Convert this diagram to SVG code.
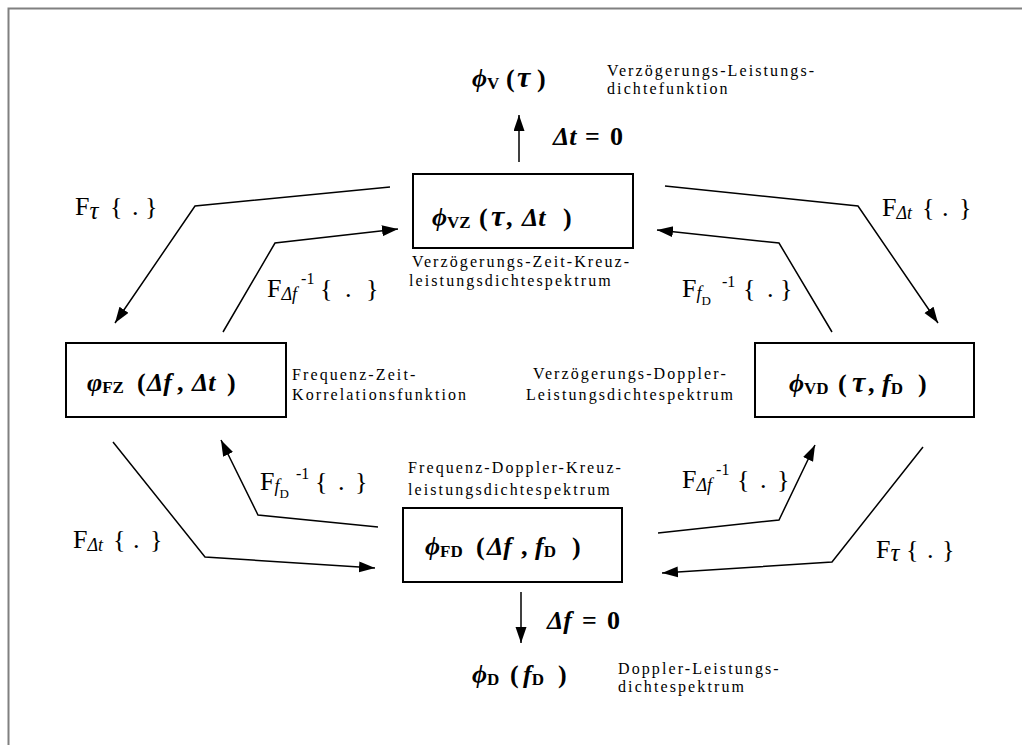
<svg xmlns="http://www.w3.org/2000/svg" width="1022" height="745" viewBox="0 0 1022 745">
<style>
text{font-family:"Liberation Serif","Times New Roman","DejaVu Serif",serif;fill:#000}
.lbl{font-size:16px;letter-spacing:2.1px}
.m{font-size:26px;font-weight:bold}
.mi{font-style:italic}
.tau{font-size:30px;font-style:italic}
.sb{font-size:17px;font-weight:bold;font-style:normal}
.f{font-size:26px}
.fs{font-size:18px;font-style:italic}
.ft{font-size:25px;font-style:italic}
.fss{font-size:13px}
.sup{font-size:16px}
.box{fill:#fff;stroke:#000;stroke-width:2}
.c{fill:none;stroke:#000;stroke-width:1.5}
</style>
<defs>
<marker id="ah" markerUnits="userSpaceOnUse" markerWidth="17" markerHeight="12" refX="16" refY="5.5" orient="auto"><path d="M0,0 L16,5.5 L0,11 z" fill="#000"/></marker>
</defs>
<rect width="1022" height="745" fill="#fff"/>
<path d="M8.5,745 V8.5 H1022" fill="none" stroke="#808080" stroke-width="2"/>

<g id="connectors">
<polyline class="c" points="390,187 195,206 115,323" marker-end="url(#ah)"/>
<polyline class="c" points="223,332 275,243 398,229" marker-end="url(#ah)"/>
<polyline class="c" points="665,186 858,206 938,323" marker-end="url(#ah)"/>
<polyline class="c" points="832,332 779,243 657,230" marker-end="url(#ah)"/>
<polyline class="c" points="113,442 205,557 375,568" marker-end="url(#ah)"/>
<polyline class="c" points="378,527 258,515 221,440" marker-end="url(#ah)"/>
<polyline class="c" points="658,533 779,520 815,445" marker-end="url(#ah)"/>
<polyline class="c" points="923,447 832,562 662,573" marker-end="url(#ah)"/>
<line class="c" x1="519" y1="162" x2="519" y2="115" marker-end="url(#ah)"/>
<line class="c" x1="521" y1="592" x2="521" y2="643" marker-end="url(#ah)"/>
</g>

<g id="connector-labels">
<text class="f"><tspan x="75" y="215">F</tspan><tspan class="ft" y="219">τ</tspan><tspan x="110" y="215">{</tspan><tspan x="132" y="215">.</tspan><tspan x="145" y="215">}</tspan></text>
<text class="f"><tspan x="267" y="297">F</tspan><tspan class="fs" y="300">Δf</tspan><tspan class="sup" y="284"> -1</tspan><tspan x="320" y="297">{</tspan><tspan x="345" y="297">.</tspan><tspan x="366" y="297">}</tspan></text>
<text class="f"><tspan x="882" y="216">F</tspan><tspan class="fs" y="219">Δt</tspan><tspan x="922" y="216">{</tspan><tspan x="942" y="216">.</tspan><tspan x="959" y="216">}</tspan></text>
<text class="f"><tspan x="682" y="297">F</tspan><tspan class="fs" y="299">f</tspan><tspan class="fss" y="305">D</tspan><tspan class="sup" x="722" y="287">-1</tspan><tspan x="743" y="297">{</tspan><tspan x="767" y="297">.</tspan><tspan x="780" y="297">}</tspan></text>
<text class="f"><tspan x="73" y="548">F</tspan><tspan class="fs" y="551">Δt</tspan><tspan x="113" y="548">{</tspan><tspan x="133" y="548">.</tspan><tspan x="150" y="548">}</tspan></text>
<text class="f"><tspan x="260" y="490">F</tspan><tspan class="fs" y="492">f</tspan><tspan class="fss" y="498">D</tspan><tspan class="sup" x="296" y="479">-1</tspan><tspan x="315" y="490">{</tspan><tspan x="338" y="490">.</tspan><tspan x="355" y="490">}</tspan></text>
<text class="f"><tspan x="682" y="488">F</tspan><tspan class="fs" y="491">Δf</tspan><tspan class="sup" y="475"> -1</tspan><tspan x="737" y="488">{</tspan><tspan x="760" y="488">.</tspan><tspan x="777" y="488">}</tspan></text>
<text class="f"><tspan x="876" y="558">F</tspan><tspan class="ft" y="561">τ</tspan><tspan x="906" y="558">{</tspan><tspan x="927" y="558">.</tspan><tspan x="942" y="558">}</tspan></text>
<text class="m"><tspan class="mi" x="553" y="145">Δt</tspan><tspan x="585" y="145">=</tspan><tspan x="610" y="145">0</tspan></text>
<text class="m"><tspan class="mi" x="547" y="629">Δf</tspan><tspan x="582" y="629">=</tspan><tspan x="607" y="629">0</tspan></text>
</g>

<g id="node-v">
<text class="m"><tspan class="mi" x="472" y="87">ϕ</tspan><tspan class="sb" y="89">V</tspan><tspan x="506" y="87">(</tspan><tspan class="tau" x="517" y="87">τ</tspan><tspan x="537" y="87">)</tspan></text>
<text class="lbl" x="607" y="76">Verzögerungs-Leistungs-</text>
<text class="lbl" x="607" y="94">dichtefunktion</text>
</g>

<g id="node-vz">
<rect class="box" x="413" y="174" width="220" height="74"/>
<text class="m"><tspan class="mi" x="432" y="226">ϕ</tspan><tspan class="sb" y="228">VZ</tspan><tspan x="479" y="226">(</tspan><tspan class="tau" x="491" y="226">τ</tspan><tspan x="506" y="226">,</tspan><tspan class="mi" x="522" y="226">Δt</tspan><tspan x="563" y="226">)</tspan></text>
<text class="lbl" x="412" y="267">Verzögerungs-Zeit-Kreuz-</text>
<text class="lbl" x="409" y="286">leistungsdichtespektrum</text>
</g>

<g id="node-fz">
<rect class="box" x="66" y="343" width="220" height="74"/>
<text class="m"><tspan class="mi" x="87" y="391">φ</tspan><tspan class="sb" y="393">FZ</tspan><tspan x="137" y="391">(</tspan><tspan class="mi" x="147" y="391">Δf</tspan><tspan x="177" y="391">,</tspan><tspan class="mi" x="192" y="391">Δt</tspan><tspan x="227" y="391">)</tspan></text>
<text class="lbl" x="292" y="380">Frequenz-Zeit-</text>
<text class="lbl" x="292" y="400">Korrelationsfunktion</text>
</g>

<g id="node-vd">
<rect class="box" x="755" y="343" width="219" height="74"/>
<text class="m"><tspan class="mi" x="789" y="392">ϕ</tspan><tspan class="sb" y="394">VD</tspan><tspan x="838" y="392">(</tspan><tspan class="tau" x="852" y="392">τ</tspan><tspan x="868" y="392">,</tspan><tspan class="mi" x="882" y="392">f</tspan><tspan class="sb" y="394">D</tspan><tspan x="918" y="392">)</tspan></text>
<text class="lbl" x="533" y="379">Verzögerungs-Doppler-</text>
<text class="lbl" x="526" y="400">Leistungsdichtespektrum</text>
</g>

<g id="node-fd">
<rect class="box" x="403" y="508" width="219" height="74"/>
<text class="m"><tspan class="mi" x="425" y="555">ϕ</tspan><tspan class="sb" y="557">FD</tspan><tspan x="476" y="555">(</tspan><tspan class="mi" x="487" y="555">Δf</tspan><tspan x="521" y="555">,</tspan><tspan class="mi" x="535" y="555">f</tspan><tspan class="sb" y="557">D</tspan><tspan x="572" y="555">)</tspan></text>
<text class="lbl" x="408" y="473">Frequenz-Doppler-Kreuz-</text>
<text class="lbl" x="408" y="495">leistungsdichtespektrum</text>
</g>

<g id="node-d">
<text class="m"><tspan class="mi" x="472" y="683">ϕ</tspan><tspan class="sb" y="685">D</tspan><tspan x="510" y="683">(</tspan><tspan class="mi" x="523" y="683">f</tspan><tspan class="sb" y="685">D</tspan><tspan x="558" y="683">)</tspan></text>
<text class="lbl" x="618" y="674">Doppler-Leistungs-</text>
<text class="lbl" x="618" y="692">dichtespektrum</text>
</g>
</svg>
